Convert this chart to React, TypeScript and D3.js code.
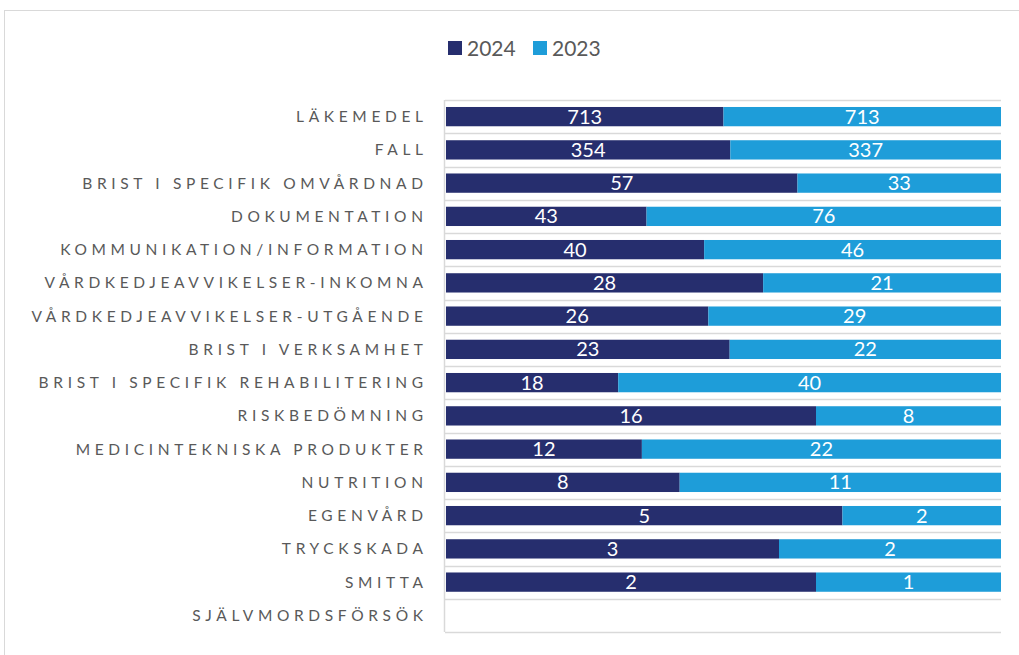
import React from "react";
import * as d3 from "d3";

const categories = [
  "LÄKEMEDEL",
  "FALL",
  "BRIST I SPECIFIK OMVÅRDNAD",
  "DOKUMENTATION",
  "KOMMUNIKATION/INFORMATION",
  "VÅRDKEDJEAVVIKELSER-INKOMNA",
  "VÅRDKEDJEAVVIKELSER-UTGÅENDE",
  "BRIST I VERKSAMHET",
  "BRIST I SPECIFIK REHABILITERING",
  "RISKBEDÖMNING",
  "MEDICINTEKNISKA PRODUKTER",
  "NUTRITION",
  "EGENVÅRD",
  "TRYCKSKADA",
  "SMITTA",
  "SJÄLVMORDSFÖRSÖK",
];
const values2024 = [713, 354, 57, 43, 40, 28, 26, 23, 18, 16, 12, 8, 5, 3, 2, 0];
const values2023 = [713, 337, 33, 76, 46, 21, 29, 22, 40, 8, 22, 11, 2, 2, 1, 0];
const seriesNames = ["2024", "2023"];
const colors = ["#262E6E", "#1E9DD9"];

const W = 1019;
const H = 655;
const left = 446;
const right = 1001;
const top = 100;
const bottom = 632;
const font = "Lato, 'Open Sans', sans-serif";

export default function App() {
  const x = d3.scaleLinear().domain([0, 1]).range([left, right]);
  const y = d3.scaleBand<string>().domain(categories).range([top, bottom]).paddingInner(0.42).paddingOuter(0.21);
  const step = y.step();
  const rows = categories.map((c, i) => {
    const a = values2024[i];
    const b = values2023[i];
    const tot = a + b;
    return { c, a, b, tot, fa: tot ? a / tot : 0 };
  });
  const ls = 4.65;
  return (
    <svg width={W} height={H} style={{ position: "absolute", left: 0, top: 0 }} fontFamily={font}>
      <rect x={4.5} y={10.5} width={W + 10} height={H + 10} fill="#fff" stroke="#d9d9d9" />
      {/* legend */}
      {seriesNames.map((s, i) => {
        const lx = 448 + i * 85;
        return (
          <g key={s}>
            <rect x={lx} y={41} width={14} height={14} fill={colors[i]} />
            <text x={lx + 19} y={55.5} fontSize={21} fill="#595959">{s}</text>
          </g>
        );
      })}
      {/* gridlines */}
      {d3.range(categories.length + 1).map((i) => {
        const gy = Math.round(top + i * step) + 0.5;
        return <line key={i} x1={left - 1} x2={right} y1={gy} y2={gy} stroke="#d9d9d9" strokeWidth={1.5} />;
      })}
      <line x1={left - 1.5} x2={left - 1.5} y1={top} y2={bottom} stroke="#d9d9d9" strokeWidth={1.5} />
      {rows.map((r) => {
        const by = y(r.c)!;
        const bh = y.bandwidth();
        const cy = by + bh / 2;
        return (
          <g key={r.c}>
            <text x={423 + ls} y={cy + 5.5} textAnchor="end" fontSize={15.5} letterSpacing={ls} fill="#595959">{r.c}</text>
            {r.tot > 0 && (
              <>
                <rect x={x(0)} y={by} width={x(r.fa) - x(0)} height={bh} fill={colors[0]} />
                <rect x={x(r.fa)} y={by} width={x(1) - x(r.fa)} height={bh} fill={colors[1]} />
                <text x={(x(0) + x(r.fa)) / 2} y={cy + 7} textAnchor="middle" fontSize={20} fill="#fff">{r.a}</text>
                <text x={(x(r.fa) + x(1)) / 2} y={cy + 7} textAnchor="middle" fontSize={20} fill="#fff">{r.b}</text>
              </>
            )}
          </g>
        );
      })}
    </svg>
  );
}
